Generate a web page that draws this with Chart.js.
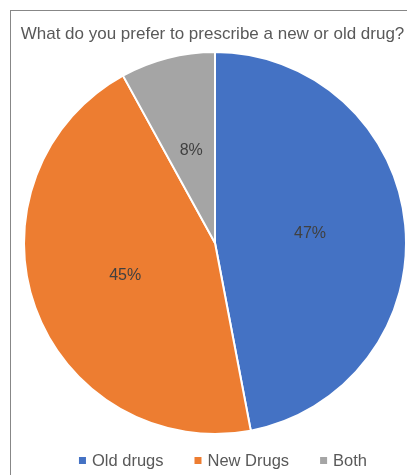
<!DOCTYPE html>
<html>
<head>
<meta charset="utf-8">
<script src="https://cdn.jsdelivr.net/npm/chart.js@4"></script>
<style>
  html, body { margin: 0; padding: 0; background: #fff; overflow: hidden; }
  #wrap { width: 407px; height: 475px; position: relative; }
</style>
</head>
<body>
<div id="wrap"><canvas id="prefChart"></canvas></div>
<script>
// data
const labels = ['Old drugs', 'New Drugs', 'Both'];
const shares = [47, 45, 8];
const colors = ['#4472C4', '#ED7D31', '#A5A5A5'];
const chartTitle = 'What do you prefer to prescribe a new or old drug?';

const FONT = '"Liberation Sans", Arial, sans-serif';

// frame line + title (only top and left of the frame are visible in the crop)
const framePlugin = {
    id: 'frame',
    beforeDraw(chart) {
        const c = chart.ctx;
        c.save();
        c.strokeStyle = '#878787';
        c.lineWidth = 1;
        c.strokeRect(10.5, 10.5, 600, 700);
        c.font = '17px ' + FONT;
        c.fillStyle = '#595959';
        c.textAlign = 'center';
        c.textBaseline = 'middle';
        c.fillText(chartTitle, 212.5, 34);
        c.restore();
    }
};

// percent labels in the middle of each slice
const sliceLabels = {
    id: 'sliceLabels',
    afterDatasetsDraw(chart) {
        const c = chart.ctx;
        const meta = chart.getDatasetMeta(0);
        c.save();
        c.font = '16px ' + FONT;
        c.fillStyle = '#404040';
        c.textAlign = 'center';
        c.textBaseline = 'middle';
        meta.data.forEach((arc, i) => {
            const p = arc.getCenterPoint();
            c.fillText(shares[i] + '%', p.x, p.y);
        });
        c.restore();
    }
};

// bottom legend, Excel style (small squares, wide gaps)
const bottomLegend = {
    id: 'bottomLegend',
    afterDraw(chart) {
        const c = chart.ctx;
        c.save();
        c.font = '16.5px ' + FONT;
        c.textBaseline = 'middle';
        const box = 7, gapText = 6, gapItem = 31;
        const widths = labels.map(l => box + gapText + c.measureText(l).width);
        const total = widths.reduce((a, b) => a + b, 0) + gapItem * (labels.length - 1);
        let x = 223 - total / 2;
        const y = 461;
        labels.forEach((l, i) => {
            c.fillStyle = colors[i];
            c.fillRect(x, y - 4, box, box);
            c.fillStyle = '#595959';
            c.fillText(l, x + box + gapText, y);
            x += widths[i] + gapItem;
        });
        c.restore();
    }
};

const ctx = document.getElementById('prefChart').getContext('2d');
const prefChart = new Chart(ctx, {
    type: 'pie',
    data: {
        labels: labels,
        datasets: [{
            data: shares,
            backgroundColor: colors,
            borderColor: '#ffffff',
            borderWidth: 2
        }]
    },
    options: {
        responsive: true,
        maintainAspectRatio: false,
        animation: false,
        layout: { padding: { left: 23, right: 0, top: 51, bottom: 40 } },
        plugins: {
            legend: { display: false },
            tooltip: { enabled: false },
            title: { display: false }
        }
    },
    plugins: [framePlugin, sliceLabels, bottomLegend]
});
</script>
</body>
</html>
